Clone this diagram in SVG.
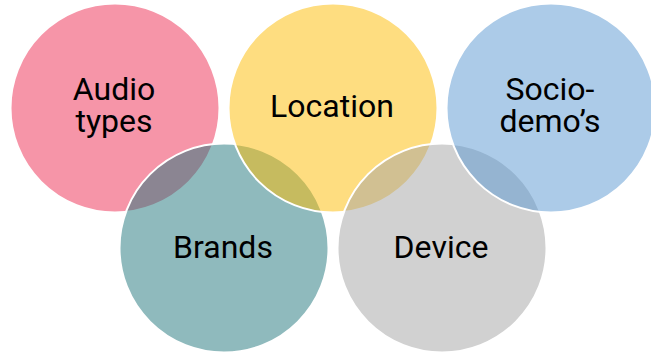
<svg xmlns="http://www.w3.org/2000/svg" width="651" height="357" viewBox="0 0 651 357">
<style>
  .c { fill-opacity: 0.5; stroke: #ffffff; stroke-width: 2; }
  .t { font-family: Roboto, "Liberation Sans", sans-serif; font-size: 32px; fill: #000000; text-anchor: middle; }
</style>
<rect width="651" height="357" fill="#ffffff"/>
<g id="audio-types">
  <circle class="c" cx="115" cy="108" r="104.5" fill="#ED2B51"/>
</g>
<g id="brands">
  <circle class="c" cx="224" cy="248" r="104.5" fill="#1F757B"/>
</g>
<g id="location">
  <circle class="c" cx="333" cy="108" r="104.5" fill="#FDBB01"/>
</g>
<g id="device">
  <circle class="c" cx="442" cy="248" r="104.5" fill="#A3A3A3"/>
</g>
<g id="socio-demos">
  <circle class="c" cx="551" cy="108" r="104.5" fill="#5997D1"/>
</g>
<g id="labels">
  <text class="t" x="114" y="100">Audio</text>
  <text class="t" x="114" y="132">types</text>
  <text class="t" x="332" y="117">Location</text>
  <text class="t" x="550" y="100">Socio-</text>
  <text class="t" x="550" y="132">demo’s</text>
  <text class="t" x="223" y="258">Brands</text>
  <text class="t" x="441" y="258">Device</text>
</g>
<g id="connectors"></g>
</svg>
